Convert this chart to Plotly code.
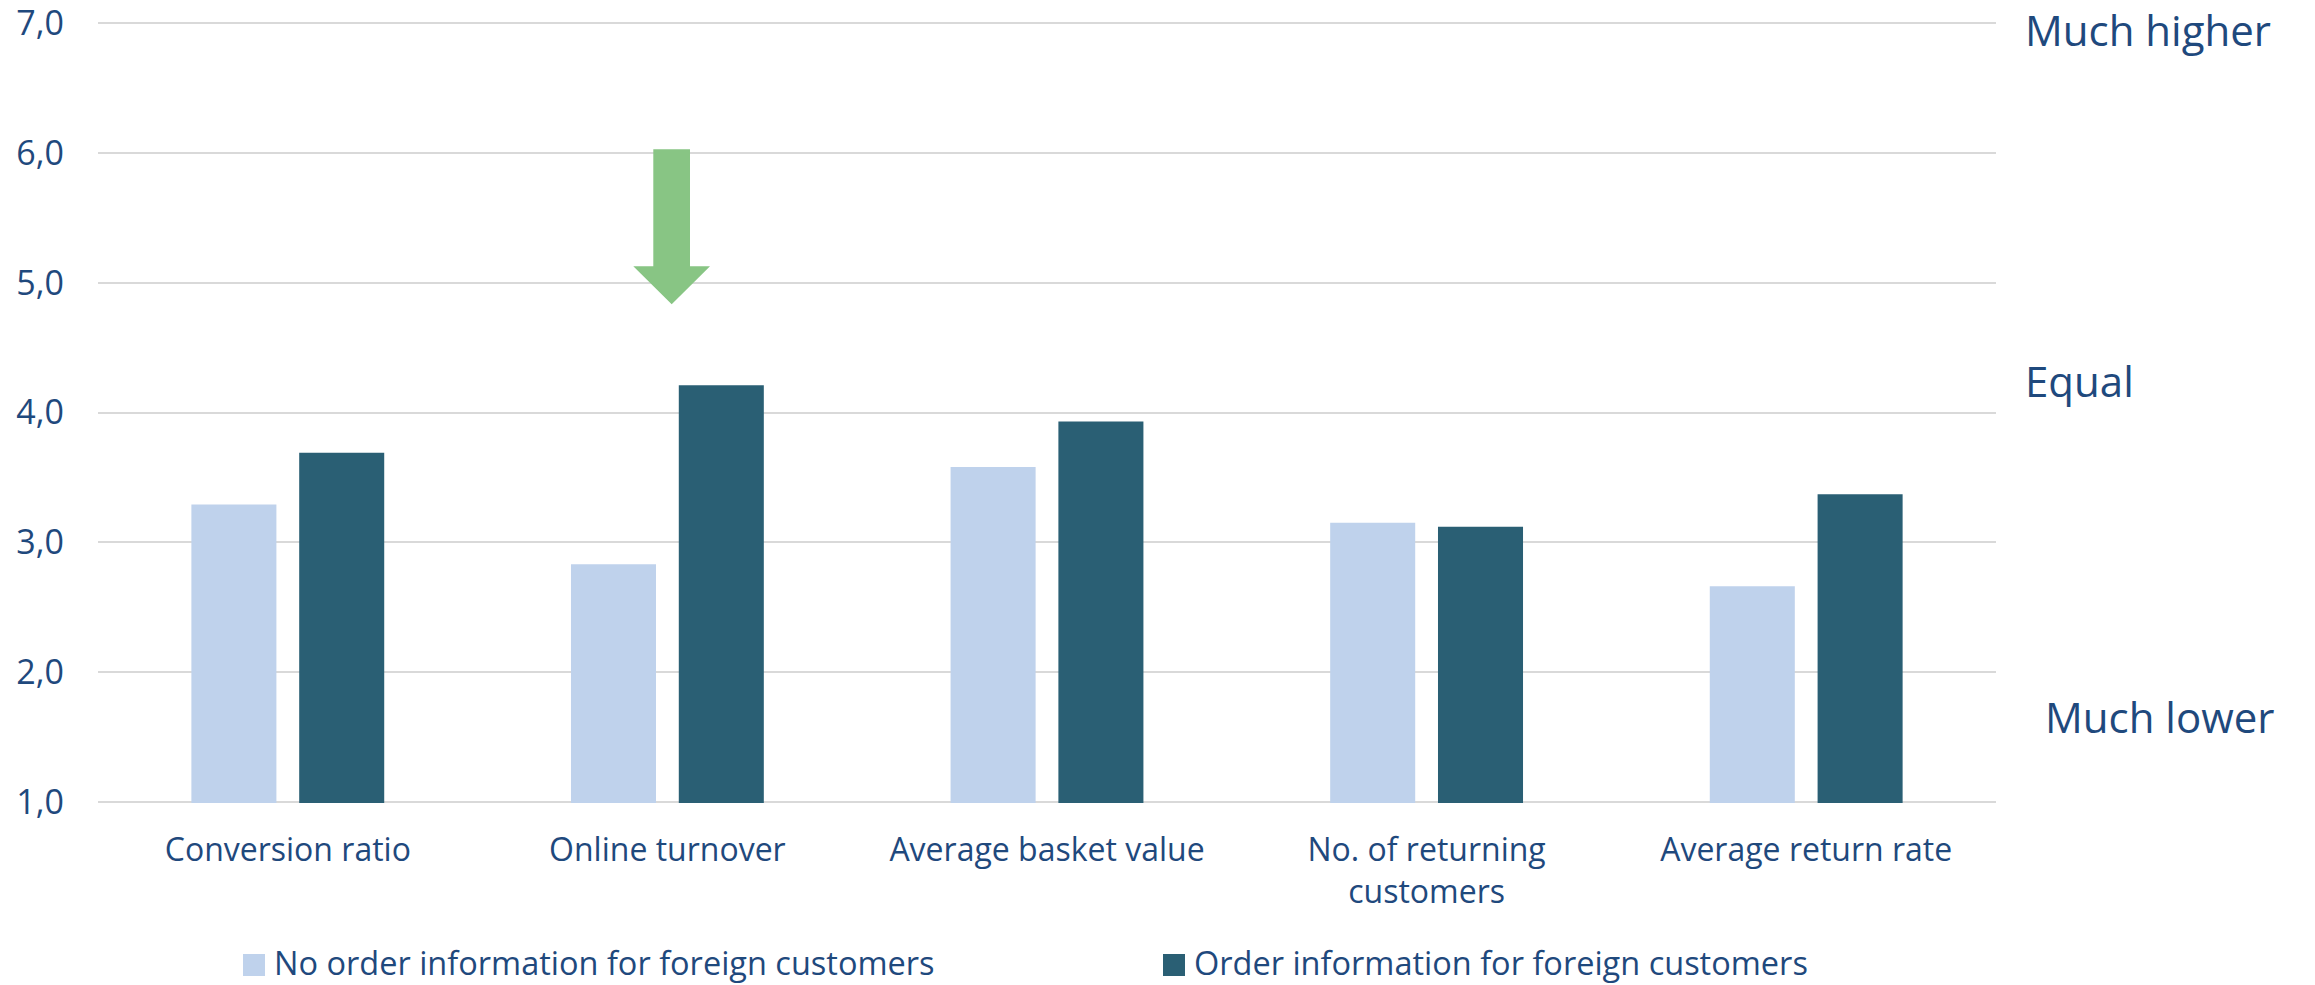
import plotly.graph_objects as go

# ---- data -------------------------------------------------------------
categories = [
    "Conversion ratio",
    "Online turnover",
    "Average basket value",
    "No. of returning<br>customers",
    "Average return rate",
]
series_names = [
    "No order information for foreign customers",
    "Order information for foreign customers",
]
no_order_info = [3.29, 2.83, 3.58, 3.15, 2.66]
order_info = [3.69, 4.21, 3.93, 3.12, 3.37]

y_ticks = [1, 2, 3, 4, 5, 6, 7]
scale_labels = ["Much higher", "Equal", "Much lower"]
scale_label_levels = [6.951, 4.25, 1.656]

# ---- styling ----------------------------------------------------------
W, H = 2315, 985
M_L, M_R, M_T, M_B = 98, 319, 22, 182
PLOT_W = W - M_L - M_R
PLOT_H = H - M_T - M_B

TEXT = "#1F497D"
LIGHT = "#BFD2EC"
DARK = "#2A5F74"
GRID = "#D9D9D9"
ARROW = "#88C584"
FONT = "Open Sans"


def px_x(px):
    """Horizontal pixel position -> paper coordinate."""
    return (px - M_L) / PLOT_W


def px_y(py):
    """Vertical pixel position -> paper coordinate."""
    return (H - M_B - py) / PLOT_H


fig = go.Figure()

bar_w = 0.224
fig.add_trace(go.Bar(
    x=categories, y=no_order_info, name=series_names[0],
    width=bar_w, offset=-0.254,
    marker=dict(color=LIGHT, line=dict(width=0)),
    showlegend=False,
))
fig.add_trace(go.Bar(
    x=categories, y=order_info, name=series_names[1],
    width=bar_w, offset=0.030,
    marker=dict(color=DARK, line=dict(width=0)),
    showlegend=False,
))

# green arrow above "Online turnover"
arrow_path = (
    f"M {px_x(653.3)},6.03 L {px_x(690)},6.03 L {px_x(690)},5.128 "
    f"L {px_x(710)},5.128 L {px_x(671.7)},4.835 L {px_x(633.3)},5.128 "
    f"L {px_x(653.3)},5.128 Z"
)
shapes = [dict(type="path", path=arrow_path, xref="paper", yref="y",
               fillcolor=ARROW, line=dict(width=0), layer="above")]

annotations = []
# scale descriptors on the right
for label, lvl, px in zip(scale_labels, scale_label_levels, [2024, 2024, 2044]):
    annotations.append(dict(
        text=label, x=px_x(px), y=lvl, xref="paper", yref="y",
        xanchor="left", yanchor="middle", showarrow=False, borderpad=0,
        font=dict(family=FONT, size=42, color=TEXT),
    ))

# legend row
legend_items = [(series_names[0], LIGHT, 243), (series_names[1], DARK, 1163)]
for name, col, px in legend_items:
    shapes.append(dict(type="rect", xref="paper", yref="paper",
                       x0=px_x(px), x1=px_x(px + 22),
                       y0=px_y(976), y1=px_y(954),
                       fillcolor=col, line=dict(width=0)))
    annotations.append(dict(
        text=name, x=px_x(px + 29), y=px_y(963), xref="paper", yref="paper",
        xanchor="left", yanchor="middle", showarrow=False,
        font=dict(family=FONT, size=32.5, color=TEXT),
    ))

fig.update_layout(
    width=W, height=H,
    margin=dict(l=M_L, r=M_R, t=M_T, b=M_B, pad=0, autoexpand=False),
    paper_bgcolor="white", plot_bgcolor="white",
    barmode="group",
    separators=",.",
    shapes=shapes,
    annotations=annotations,
    font=dict(family=FONT, color=TEXT),
)
fig.update_xaxes(
    range=[-0.5, 4.5], showgrid=False, showline=False, zeroline=False,
    ticks="", tickfont=dict(family=FONT, size=32, color=TEXT),
    ticklabelstandoff=25, automargin=False,
)
fig.update_yaxes(
    range=[0.99, 7.01], tickvals=y_ticks, tickformat=".1f",
    showgrid=True, gridcolor=GRID, gridwidth=1.6,
    showline=False, zeroline=False, ticks="",
    tickfont=dict(family=FONT, size=34, color=TEXT),
    ticklabelstandoff=33, ticklabeloverflow="allow", automargin=False,
)

fig.write_html("out.html")
